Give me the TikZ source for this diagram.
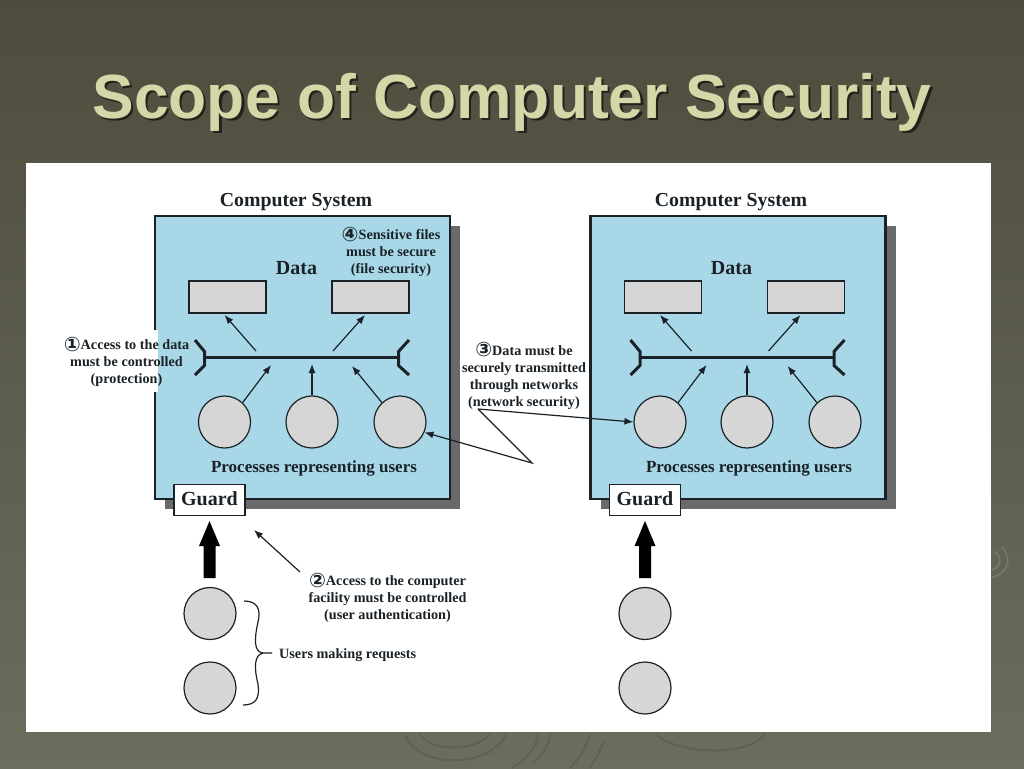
\documentclass[tikz,border=0pt]{standalone}
\usepackage{fontspec}
\setmainfont{Liberation Serif}
\newfontfamily\titlefont{Liberation Sans}
\newfontfamily\symfont{DejaVu Sans}
\usetikzlibrary{arrows.meta,calc}
\definecolor{bgtop}{HTML}{4E4C3D}
\definecolor{bgbot}{HTML}{6B6D5D}
\definecolor{titlecol}{HTML}{D6D6A8}
\definecolor{titleshade}{HTML}{22221A}
\definecolor{boxblue}{HTML}{A8D8E8}
\definecolor{boxshadow}{HTML}{6A6A6A}
\definecolor{lightgrey}{HTML}{D6D6D6}
\definecolor{ink}{HTML}{1A2228}
\newcommand{\circnum}[1]{{\symfont\fontsize{20}{17}\selectfont\raisebox{-1.5pt}{#1}}}
\newcommand{\shadowtext}[1]{\rlap{\kern2.2pt\raisebox{-2.2pt}{\textcolor{titleshade}{#1}}}#1}
\tikzset{
  x=1pt,y=-1pt,
  sysbox/.style={draw=ink,line width=2.8pt,fill=boxblue,minimum width=295pt,minimum height=283pt,inner sep=0pt},
  shadowbox/.style={fill=boxshadow,minimum width=295pt,minimum height=283pt,inner sep=0pt},
  datarect/.style={draw=ink,line width=1.1pt,fill=lightgrey,minimum width=77pt,minimum height=32pt,inner sep=0pt},
  proc/.style={circle,draw=ink,line width=1.2pt,fill=lightgrey,minimum size=52pt,inner sep=0pt},
  guardbox/.style={draw=ink,line width=1.2pt,fill=white,minimum width=71pt,minimum height=31pt,inner sep=0pt,text=ink,font=\bfseries\fontsize{20}{20}\selectfont},
  head/.style={text=ink,font=\bfseries\fontsize{19.8}{19.8}\selectfont,inner sep=0pt},
  subhead/.style={text=ink,font=\bfseries\fontsize{20}{20}\selectfont,inner sep=0pt},
  proclabel/.style={text=ink,font=\bfseries\fontsize{17}{17}\selectfont,inner sep=0pt},
  note/.style={text=ink,font=\bfseries\fontsize{14.2}{17}\selectfont,align=center,inner sep=0pt},
  thin arrow/.style={draw=ink,line width=1.2pt,-{Latex[length=9pt,width=7pt]}},
  busline/.style={draw=ink,line width=3pt,line join=round},
  bigarrow/.style={draw=none,fill=black},
  swirlL/.style={draw=white,opacity=0.13,line width=1.6pt},
  swirlD/.style={draw=black,opacity=0.10,line width=2pt}
}
\begin{document}
\begin{tikzpicture}
\useasboundingbox (0,0) rectangle (1024,768);
\shade[top color=bgtop,bottom color=bgbot] (0,0) rectangle (1024,768);
% faint background swirls
\draw[swirlL] (1002,547) .. controls (1012,558) and (1010,572) .. (991,578);
\draw[swirlL] (994,551) .. controls (1002,557) and (1002,566) .. (992,570);
\draw[swirlD] (405,734) .. controls (415,768) and (490,770) .. (506,734);
\draw[swirlD] (420,734) .. controls (430,752) and (475,752) .. (490,734);
\draw[swirlD] (538,734) .. controls (537,748) and (525,760) .. (512,768);
\draw[swirlD] (550,734) .. controls (550,745) and (542,756) .. (532,763);
\draw[swirlD] (590,734) .. controls (586,748) and (578,760) .. (570,768);
\draw[swirlD] (604,741) .. controls (600,750) and (596,760) .. (589,768);
\draw[swirlD] (655,734) .. controls (680,756) and (750,756) .. (765,734);
% title
\node[text=titlecol,font=\titlefont\bfseries\fontsize{62.4}{62.4}\selectfont,inner sep=0pt] (title) at (512,103) {\shadowtext{Scope of Computer Security}};
% white panel
\node[fill=white,minimum width=965pt,minimum height=569pt,inner sep=0pt] (panel) at (508.5,447.5) {};
% system boxes
\node[shadowbox] (shadowL) at (312.5,367.5) {};
\node[shadowbox] (shadowR) at (748,367.5) {};
\node[sysbox] (boxL) at (302.5,357.5) {};
\node[sysbox] (boxR) at (738,357.5) {};
\fill[white] (152,330) rectangle (157.5,392);
\node[head] (csL) at (296,202) {Computer System};
\node[head] (csR) at (731,202) {Computer System};
\node[subhead] (dataL) at (296.5,268.5) {Data};
\node[subhead] (dataR) at (731.5,268.5) {Data};
% data rectangles
\node[datarect] (d1) at (227.5,297) {};
\node[datarect] (d2) at (370.5,297) {};
\node[datarect] (d3) at (663,297) {};
\node[datarect] (d4) at (806,297) {};
% process circles
\node[proc] (p1) at (224.5,422) {};
\node[proc] (p2) at (312,422) {};
\node[proc] (p3) at (400,422) {};
\node[proc] (p4) at (660,422) {};
\node[proc] (p5) at (747,422) {};
\node[proc] (p6) at (835,422) {};
% user circles
\node[proc] (u1) at (210,613.5) {};
\node[proc] (u2) at (210,688) {};
\node[proc] (u3) at (645,613.5) {};
\node[proc] (u4) at (645,688) {};
% bus coordinates
\coordinate (busLa) at (204.5,357.5);
\coordinate (busLb) at (398.5,357.5);
\coordinate (busRa) at (640,357.5);
\coordinate (busRb) at (834,357.5);
\draw[busline] (busLa) -- (busLb);
\draw[busline] (busRa) -- (busRb);
\draw[busline] ($(busLa)+(-9.5,-17.5)$) -- ($(busLa)+(0,-6)$) -- ($(busLa)+(0,8)$) -- ($(busLa)+(-9.5,17.5)$);
\draw[busline] ($(busLb)+(10.5,-17.5)$) -- ($(busLb)+(0,-6)$) -- ($(busLb)+(0,8)$) -- ($(busLb)+(10.5,17.5)$);
\draw[busline] ($(busRa)+(-9.5,-17.5)$) -- ($(busRa)+(0,-6)$) -- ($(busRa)+(0,8)$) -- ($(busRa)+(-9.5,17.5)$);
\draw[busline] ($(busRb)+(10.5,-17.5)$) -- ($(busRb)+(0,-6)$) -- ($(busRb)+(0,8)$) -- ($(busRb)+(10.5,17.5)$);
% bus to data arrows
\coordinate (upL1) at (256,351);
\coordinate (upL2) at (333,351);
\coordinate (upR1) at (691.5,351);
\coordinate (upR2) at (768.5,351);
\coordinate (tipL1) at (224.5,315);
\coordinate (tipL2) at (365,315);
\coordinate (tipR1) at (660,315);
\coordinate (tipR2) at (800.5,315);
\draw[thin arrow] (upL1) -- (tipL1);
\draw[thin arrow] (upL2) -- (tipL2);
\draw[thin arrow] (upR1) -- (tipR1);
\draw[thin arrow] (upR2) -- (tipR2);
% process to bus arrows
\coordinate (inL1) at (271,365);
\coordinate (inL2) at (312,364);
\coordinate (inL3) at (352,366);
\coordinate (inR1) at (706.5,365);
\coordinate (inR2) at (747,364);
\coordinate (inR3) at (787.5,366);
\draw[thin arrow] (p1.47) -- (inL1);
\draw[thin arrow] (p2.north) -- (inL2);
\draw[thin arrow] (p3.133) -- (inL3);
\draw[thin arrow] (p4.47) -- (inR1);
\draw[thin arrow] (p5.north) -- (inR2);
\draw[thin arrow] (p6.133) -- (inR3);
% labels in boxes
\node[proclabel] (procL) at (314,468.5) {Processes representing users};
\node[proclabel] (procR) at (749,468.5) {Processes representing users};
% guards
\node[guardbox,text depth=4pt,text height=14pt] (g1) at (209.5,500) {Guard};
\node[guardbox,text depth=4pt,text height=14pt] (g2) at (645,500) {Guard};
% big arrows
\coordinate (ba1) at (209.5,578);
\coordinate (ba2) at (645,578);
\fill[bigarrow] ($(ba1)+(-6,0)$) -- ($(ba1)+(-6,-32)$) -- ($(ba1)+(-10.5,-32)$) -- ($(ba1)+(0,-57)$) -- ($(ba1)+(10.5,-32)$) -- ($(ba1)+(6,-32)$) -- ($(ba1)+(6,0)$) -- cycle;
\fill[bigarrow] ($(ba2)+(-6,0)$) -- ($(ba2)+(-6,-32)$) -- ($(ba2)+(-10.5,-32)$) -- ($(ba2)+(0,-57)$) -- ($(ba2)+(10.5,-32)$) -- ($(ba2)+(6,-32)$) -- ($(ba2)+(6,0)$) -- cycle;
% notes
\node[note] (n4) at (391,252) {\circnum{④}Sensitive files\\must be secure\\(file security)};
\node[note] (n1) at (126.5,362) {\circnum{①}Access to the data\\must be controlled\\(protection)};
\node[note] (n3) at (524,375.7) {\circnum{③}Data must be\\securely transmitted\\through networks\\(network security)};
\node[note] (n2) at (387.5,598) {\circnum{②}Access to the computer\\facility must be controlled\\(user authentication)};
\node[note,anchor=west] (n5) at (279,655) {Users making requests};
% note 2 arrow
\coordinate (n2tail) at (300,572);
\coordinate (n2tip) at (254,530);
\draw[thin arrow] (n2tail) -- (n2tip);
% note 3 arrows
\coordinate (n3a) at (478,409);
\coordinate (n3b) at (532,463);
\draw[thin arrow] (n3a) -- (p4.west);
\draw[thin arrow] (n3a) -- (n3b) -- (p3.-23);
% brace
\coordinate (brA) at (244,601);
\coordinate (brB) at (243,705);
\coordinate (brC) at (272,653);
\draw[draw=ink,line width=1.2pt] (brA) .. controls (258,601) and (261,610) .. (258,622) .. controls (254,640) and (254,652) .. (263,653) -- (brC);
\draw[draw=ink,line width=1.2pt] (brB) .. controls (256,705) and (260,698) .. (258,684) .. controls (254,668) and (254,655) .. (263,653);
\end{tikzpicture}
\end{document}
